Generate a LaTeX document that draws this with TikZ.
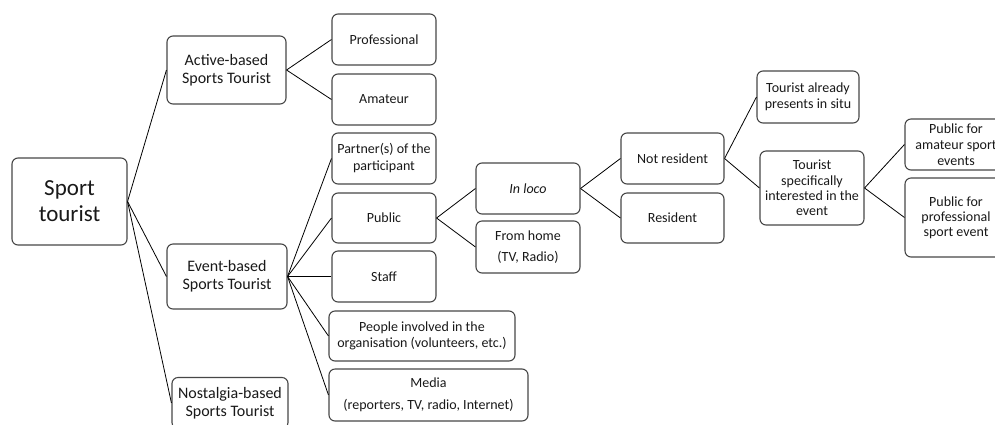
\documentclass[tikz,border=0pt]{standalone}
\usepackage{fontspec}
\setmainfont{Carlito}
\tikzset{
  box/.style={draw=black!72, line width=1.1pt, rounded corners=6pt, align=center,
    text=black!90, inner sep=0pt, font=\fontsize{14}{17}\selectfont},
  midbox/.style={box, font=\fontsize{16}{17.7}\selectfont},
  bigbox/.style={box, font=\fontsize{23}{26}\selectfont},
  wide/.style={font=\fontsize{14}{21.7}\selectfont},
  tight/.style={font=\fontsize{14}{15.2}\selectfont},
  link/.style={draw=black, line width=0.8pt}
}
\begin{document}
\begin{tikzpicture}[x=1pt,y=-1pt]
\useasboundingbox (0,0) rectangle (995,424);
\clip (0,0) rectangle (995,424);
\fill[white] (0,0) rectangle (995,424);
\node[bigbox, minimum width=115, minimum height=87] (sport) at (69.5,201.5) {Sport\\tourist};
\node[midbox, minimum width=119, minimum height=68] (active) at (226.5,70) {Active-based\\Sports Tourist};
\node[midbox, minimum width=120, minimum height=65] (event) at (227,276.5) {Event-based\\Sports Tourist};
\node[midbox, minimum width=116, minimum height=51] (nost) at (230,403) {Nostalgia-based\\Sports Tourist};
\node[box, minimum width=104, minimum height=51] (prof) at (384,39.5) {Professional};
\node[box, minimum width=104, minimum height=51] (amat) at (384,99.5) {Amateur};
\node[box, minimum width=104, minimum height=51] (partner) at (384,158.5) {Partner(s) of the\\participant};
\node[box, minimum width=104, minimum height=50] (public) at (384,218) {Public};
\node[box, minimum width=104, minimum height=51] (staff) at (384,276.5) {Staff};
\node[box, minimum width=186, minimum height=50, font=\fontsize{14}{16}\selectfont] (people) at (422,336) {People involved in the\\organisation (volunteers, etc.)};
\node[box, wide, minimum width=199, minimum height=52] (media) at (428.5,395) {Media\\(reporters, TV, radio, Internet)};
\node[box, minimum width=104, minimum height=51] (inloco) at (528,188.5) {\textit{In loco}};
\node[box, wide, minimum width=104, minimum height=52] (home) at (528,247) {From home\\(TV, Radio)};
\node[box, minimum width=103, minimum height=51] (notres) at (672.5,158.5) {Not resident};
\node[box, minimum width=103, minimum height=50] (res) at (672.5,218) {Resident};
\node[box, font=\fontsize{14}{16.3}\selectfont, minimum width=102, minimum height=52] (already) at (808,97) {Tourist already\\presents in situ};
\node[box, tight, minimum width=104, minimum height=74] (specif) at (812,188) {Tourist\\specifically\\interested in the\\event};
\node[box, font=\fontsize{14}{16.3}\selectfont, minimum width=102, minimum height=51] (pubam) at (956,144.5) {Public for\\amateur sport\\events};
\node[box, tight, minimum width=102, minimum height=79] (pubpro) at (956,217.5) {Public for\\professional\\sport event};
\draw[link] (sport.east) -- (active.west);
\draw[link] (sport.east) -- (event.west);
\draw[link] (sport.east) -- (nost.west);
\draw[link] (active.east) -- (prof.west);
\draw[link] (active.east) -- (amat.west);
\draw[link] (event.east) -- (partner.west);
\draw[link] (event.east) -- (public.west);
\draw[link] (event.east) -- (staff.west);
\draw[link] (event.east) -- (people.west);
\draw[link] (event.east) -- (media.west);
\draw[link] (public.east) -- (inloco.west);
\draw[link] (public.east) -- (home.west);
\draw[link] (inloco.east) -- (notres.west);
\draw[link] (inloco.east) -- (res.west);
\draw[link] (notres.east) -- (already.west);
\draw[link] (notres.east) -- (specif.west);
\draw[link] (specif.east) -- (pubam.west);
\draw[link] (specif.east) -- (pubpro.west);
\end{tikzpicture}
\end{document}
